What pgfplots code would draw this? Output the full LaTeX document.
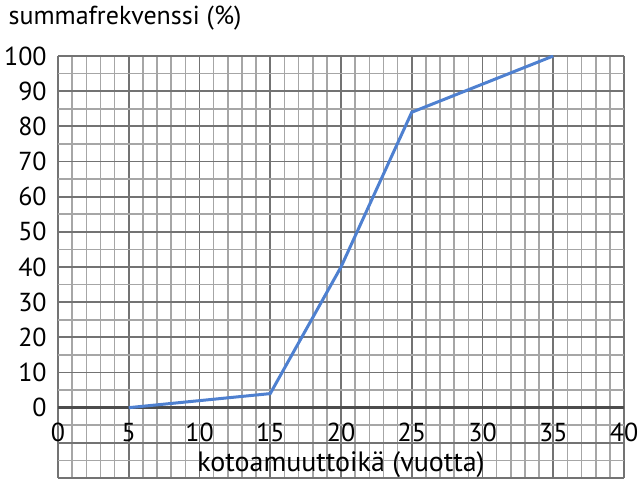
\documentclass[border=0pt]{standalone}
\usepackage{pgfplots}
\pgfplotsset{compat=1.18}
\usepackage{fontspec}
\setmainfont{PT Sans}
\definecolor{lineblue}{RGB}{78,128,208}
\begin{document}
\begin{tikzpicture}
\useasboundingbox (-29pt,-1pt) rectangle (291pt,239pt);
\begin{axis}[
  scale only axis,
  width=283pt, height=211pt,
  xmin=0, xmax=40, ymin=-20, ymax=100,
  axis x line=middle, axis y line=left,
  hide obscured x ticks=false, hide obscured y ticks=false,
  x axis line style={-, line width=1.6pt, black!70},
  y axis line style={draw=none},
  xtick={0,5,...,40}, minor x tick num=4,
  ytick={-20,-10,0,10,20,30,40,50,60,70,80,90,100},
  yticklabels={{},{},0,10,20,30,40,50,60,70,80,90,100},
  minor y tick num=1,
  grid=both,
  major grid style={line width=0.9pt, black!55},
  minor grid style={line width=0.8pt, black!35},
  tick style={draw=none},
  tick label style={font=\fontsize{13}{15}\selectfont},
  xticklabel style={yshift=-2pt},
  /pgf/number format/assume math mode=true,
  every axis title shift=0pt,
  title={summafrekvenssi (\%)},
  title style={at={(axis description cs:-0.088,1.09)}, anchor=west,
    inner sep=0pt, font=\fontsize{13}{15}\selectfont},
  xlabel={kotoamuuttoikä (vuotta)},
  xlabel style={at={(axis description cs:0.5,0.031)}, anchor=center,
    font=\fontsize{14}{16}\selectfont},
]
\addplot[lineblue, line width=1.5pt] coordinates {(5,0)(15,4)(20,40)(25,84)(35,100)};
\end{axis}
\end{tikzpicture}
\end{document}
